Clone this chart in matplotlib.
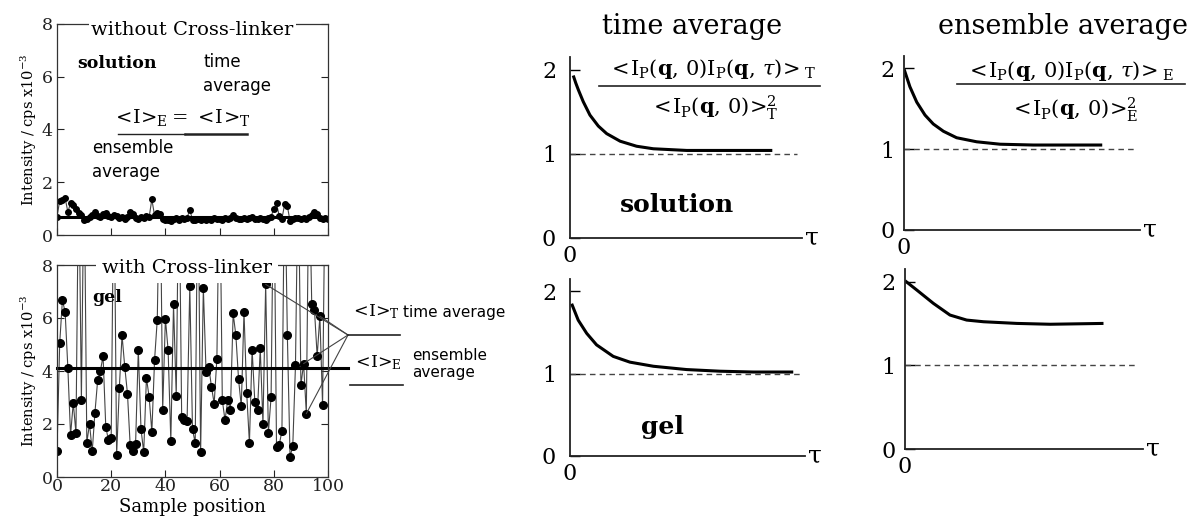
import matplotlib
matplotlib.use("Agg")
import matplotlib.pyplot as plt
from matplotlib.lines import Line2D

W, H = 1198, 518

# ---------------- data ----------------
sample_position = list(range(101))
intensity_solution = [0.70, 1.30, 1.33, 1.40, 0.88, 1.20, 1.14, 0.98, 0.85, 0.75,
                      0.58, 0.62, 0.70, 0.75, 0.88, 0.72, 0.68, 0.80, 0.85, 0.72,
                      0.70, 0.76, 0.72, 0.66, 0.70, 0.62, 0.68, 0.88, 0.80, 0.66,
                      0.62, 0.70, 0.64, 0.72, 0.68, 1.35, 0.74, 0.82, 0.80, 0.62,
                      0.58, 0.55, 0.52, 0.62, 0.66, 0.58, 0.64, 0.60, 0.66, 0.95,
                      0.58, 0.55, 0.60, 0.58, 0.62, 0.56, 0.60, 0.58, 0.64, 0.60,
                      0.62, 0.58, 0.64, 0.62, 0.66, 0.74, 0.64, 0.60, 0.62, 0.66,
                      0.60, 0.64, 0.68, 0.62, 0.60, 0.66, 0.62, 0.58, 0.64, 0.70,
                      1.00, 1.20, 0.72, 0.62, 1.16, 1.10, 0.52, 0.62, 0.66, 0.64,
                      0.60, 0.66, 0.62, 0.70, 0.74, 0.86, 0.78, 0.66, 0.60, 0.66, 0.62]
intensity_gel = [0.97, 5.06, 6.67, 6.23, 4.13, 1.58, 2.80, 1.65, 12.0, 2.90,
                 12.0, 1.30, 2.00, 0.97, 2.43, 3.65, 4.00, 4.56, 1.89, 1.38,
                 1.47, 12.0, 0.82, 3.36, 5.35, 4.16, 3.15, 1.20, 0.97, 1.26,
                 4.79, 1.80, 0.94, 3.74, 3.02, 1.70, 4.41, 5.94, 12.0, 2.54,
                 5.98, 4.79, 1.36, 6.51, 3.06, 12.0, 2.27, 2.14, 2.10, 7.20,
                 1.80, 1.28, 12.0, 0.94, 7.14, 3.97, 4.16, 3.40, 2.77, 4.47,
                 12.0, 2.90, 2.14, 2.90, 2.54, 6.17, 5.35, 3.68, 2.67, 6.23,
                 3.17, 1.28, 4.81, 2.83, 2.54, 4.85, 1.99, 7.27, 1.66, 3.02,
                 12.0, 1.13, 1.22, 1.73, 12.0, 5.35, 0.76, 1.16, 4.22, 12.0,
                 3.46, 4.28, 2.39, 12.0, 6.52, 6.32, 4.56, 6.07, 2.70, 12.0, 12.0]
mean_solution = 0.70
mean_gel = 4.12
annotated_points = [77, 97, 91, 92]
left_yticks = [0, 2, 4, 6, 8]
left_xticks = [0, 20, 40, 60, 80, 100]

tau_time_solution = [0.014, 0.025, 0.036, 0.057, 0.086, 0.122, 0.158, 0.216, 0.287, 0.359, 0.503, 0.647, 0.872]
g2_time_solution = [1.93, 1.84, 1.76, 1.62, 1.46, 1.33, 1.24, 1.15, 1.09, 1.06, 1.04, 1.04, 1.04]
tau_ens_solution = [0.0, 0.025, 0.054, 0.089, 0.124, 0.167, 0.223, 0.308, 0.407, 0.548, 0.840]
g2_ens_solution = [1.99, 1.77, 1.58, 1.42, 1.31, 1.22, 1.14, 1.09, 1.06, 1.05, 1.05]
tau_time_gel = [0.007, 0.035, 0.071, 0.113, 0.184, 0.255, 0.355, 0.496, 0.638, 0.78, 0.95]
g2_time_gel = [1.85, 1.65, 1.49, 1.35, 1.21, 1.14, 1.09, 1.05, 1.03, 1.02, 1.02]
tau_ens_gel = [0.0, 0.049, 0.119, 0.189, 0.259, 0.33, 0.47, 0.61, 0.834]
g2_ens_gel = [2.01, 1.90, 1.74, 1.60, 1.54, 1.52, 1.50, 1.49, 1.50]
right_yticks = [0, 1, 2]
right_xticks = [0]

SERIF = "DejaVu Serif"
SANS = "DejaVu Sans"
plt.rcParams["mathtext.fontset"] = "dejavuserif"

fig = plt.figure(figsize=(W / 100, H / 100), dpi=100)


def fx(x):
    return x / W


def fy(y):
    return 1 - y / H


def add_ax(x0, y0, x1, y1):
    return fig.add_axes([fx(x0), fy(y1), fx(x1 - x0), (y1 - y0) / H])


def fig_line(x0, y0, x1, y1, lw=1.0, color="#222"):
    fig.add_artist(Line2D([fx(x0), fx(x1)], [fy(y0), fy(y1)], lw=lw, color=color,
                          transform=fig.transFigure))


def ftext(x, y, s, **kw):
    fig.text(fx(x), fy(y), s, **kw)


# ---------------- left panels ----------------
def style_left(ax, labels_bottom):
    ax.set_xlim(0, 100)
    ax.set_ylim(0, 8)
    ax.set_yticks(left_yticks)
    ax.set_xticks(left_xticks)
    ax.tick_params(direction="in", right=True, top=False, length=5, width=0.8,
                   labelsize=12.5, colors="#222")
    ax.tick_params(axis="y", pad=3)
    ax.tick_params(axis="x", pad=1)
    if not labels_bottom:
        ax.tick_params(labelbottom=False)
    for lab in ax.get_xticklabels() + ax.get_yticklabels():
        lab.set_family(SERIF)
    for s in ax.spines.values():
        s.set_linewidth(0.9)
        s.set_color("#333")
    ax.set_ylabel(r"Intensity / cps x10$^{-3}$", family=SERIF, fontsize=10.5, labelpad=2)


ax1 = add_ax(57, 24, 328, 235)
style_left(ax1, False)
ax1.plot(sample_position, intensity_solution, "-o", color="#444", lw=0.8,
         ms=4, mfc="black", mec="black")
ax1.axhline(mean_solution, color="black", lw=2.2)
ax1.text(0.5, 0.972, "without Cross-linker", transform=ax1.transAxes, ha="center",
         va="center", family=SERIF, fontsize=14, zorder=5,
         bbox=dict(fc="white", ec="none", pad=2))

ax2 = add_ax(57, 265, 328, 477)
style_left(ax2, True)
ax2.plot(sample_position, intensity_gel, "-o", color="#444", lw=0.8,
         ms=5.5, mfc="black", mec="black")
ax2.axhline(mean_gel, xmin=0, xmax=(348 - 57) / 271, color="black", lw=2.2, clip_on=False)
ax2.text(0.48, 0.985, "with Cross-linker", transform=ax2.transAxes, ha="center",
         va="center", family=SERIF, fontsize=14, zorder=5,
         bbox=dict(fc="white", ec="none", pad=4))
ax2.set_xlabel("Sample position", family=SERIF, fontsize=13, labelpad=2)

# annotation fan in the gel panel
apex = (fx(348), fy(335))
for i in annotated_points:
    ax2.annotate("", xy=(sample_position[i], intensity_gel[i]), xycoords="data",
                 xytext=apex, textcoords="figure fraction",
                 arrowprops=dict(arrowstyle="-", lw=0.8, color="#444",
                                 shrinkA=0, shrinkB=0))
fig_line(348, 335, 400, 335, lw=1.2)
fig_line(350, 385, 403, 385, lw=1.2)
ftext(350, 312, r"$<\!\mathrm{I}\!>_{\!\!\mathrm{T}}$", family=SERIF, fontsize=12.5, va="center")
ftext(403, 312, "time average", family=SANS, fontsize=11, va="center")
ftext(352, 363, r"$<\!\mathrm{I}\!>_{\!\!\mathrm{E}}$", family=SERIF, fontsize=12.5, va="center")
ftext(412, 364, "ensemble\naverage", family=SANS, fontsize=11, va="center", linespacing=1.2)

# texts in the solution panel
ftext(77, 63, "solution", family=SERIF, fontsize=12.5, weight="bold", va="center")
ftext(203, 74, "time\naverage", family=SANS, fontsize=12, va="center", linespacing=1.4)
ftext(181, 118, r"$<\!\mathrm{I}\!>_{\!\!\mathrm{E}}=\,<\!\mathrm{I}\!>_{\!\!\mathrm{T}}$",
      family=SERIF, fontsize=14, va="center", ha="center")
fig_line(118, 134, 185, 134, lw=1.0)
fig_line(185, 134, 247, 134, lw=1.8)
ftext(92, 160, "ensemble\naverage", family=SANS, fontsize=12, va="center", linespacing=1.4)
ftext(92, 298, "gel", family=SERIF, fontsize=12.5, weight="bold", va="center")


# ---------------- right panels ----------------
def style_right(ax, ypad):
    ax.set_xlim(0, 1)
    ax.set_ylim(0, 2.15)
    ax.set_yticks(right_yticks)
    ax.set_xticks(right_xticks)
    ax.spines["top"].set_visible(False)
    ax.spines["right"].set_visible(False)
    for s in ("left", "bottom"):
        ax.spines[s].set_linewidth(1.3)
        ax.spines[s].set_color("#222")
    ax.tick_params(axis="y", direction="in", length=7, width=1.0, labelsize=16, pad=ypad)
    ax.tick_params(axis="x", length=0, labelsize=16, pad=5)
    for lab in ax.get_xticklabels() + ax.get_yticklabels():
        lab.set_family(SERIF)
    ax.annotate("τ", xy=(1, 0), xycoords="axes fraction", xytext=(2, 0),
                textcoords="offset points", ha="left", va="center",
                family=SERIF, fontsize=18)
    ax.set_facecolor("none")


panels = [
    ((570, 57, 802, 238), tau_time_solution, g2_time_solution, 0.98, 10),
    ((570, 279, 805, 456), tau_time_gel, g2_time_gel, 0.986, 10),
    ((904, 56, 1140, 230), tau_ens_solution, g2_ens_solution, 0.979, 7),
    ((905, 269, 1143, 449), tau_ens_gel, g2_ens_gel, 0.972, 7),
]
for box, tau, g2, dash_end, ypad in panels:
    ax = add_ax(*box)
    style_right(ax, ypad)
    ax.hlines(1, 0, dash_end, colors="#444", linestyles=(0, (4, 3)), lw=1.0)
    ax.plot(tau, g2, color="black", lw=2.2, solid_capstyle="butt")

ftext(692, 27, "time average", family=SERIF, fontsize=19.5, ha="center", va="center")
ftext(1063, 27, "ensemble average", family=SERIF, fontsize=19.5, ha="center", va="center")

num_T = r"$<\!\mathrm{I}_{\mathrm{P}}(\mathbf{q},\,0)\mathrm{I}_{\mathrm{P}}(\mathbf{q},\,\tau)\!>_{\mathrm{T}}$"
den_T = r"$<\!\mathrm{I}_{\mathrm{P}}(\mathbf{q},\,0)\!>^{\!\!2}_{\!\!\mathrm{T}}$"
num_E = r"$<\!\mathrm{I}_{\mathrm{P}}(\mathbf{q},\,0)\mathrm{I}_{\mathrm{P}}(\mathbf{q},\,\tau)\!>_{\mathrm{E}}$"
den_E = r"$<\!\mathrm{I}_{\mathrm{P}}(\mathbf{q},\,0)\!>^{\!\!2}_{\!\!\mathrm{E}}$"
ftext(712, 69, num_T, fontsize=15, ha="center", va="center")
fig_line(599, 86, 820, 86, lw=1.2)
ftext(714, 108, den_T, fontsize=15, ha="center", va="center")
ftext(1070, 71, num_E, fontsize=15, ha="center", va="center")
fig_line(957, 84, 1185, 84, lw=1.2)
ftext(1074, 110, den_E, fontsize=15, ha="center", va="center")

ftext(677, 205, "solution", family=SERIF, fontsize=18, weight="bold", ha="center", va="center")
ftext(662, 427, "gel", family=SERIF, fontsize=18, weight="bold", ha="center", va="center")

fig.savefig("out.png", dpi=100)
